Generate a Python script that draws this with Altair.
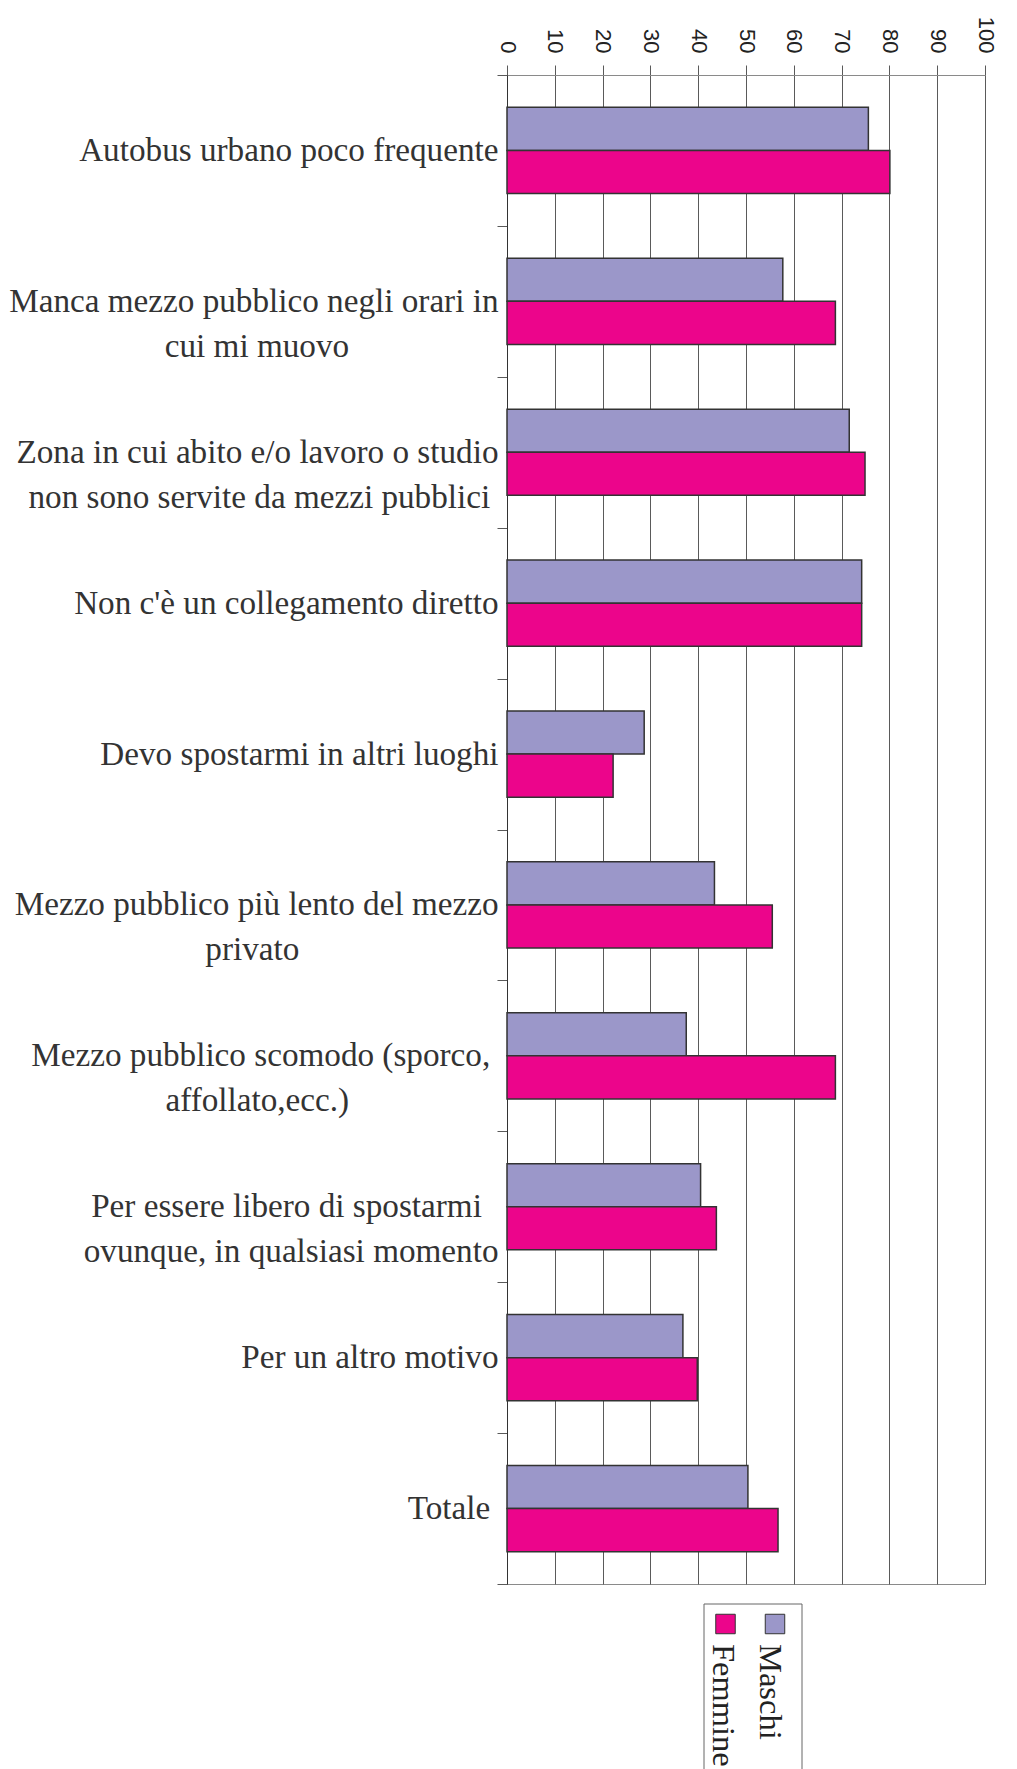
import altair as alt
import pandas as pd

NB = "\u00a0"
ZW = "\u200b"  # keeps the padding from being trimmed

categories = [
    "Autobus urbano poco frequente",
    "Manca mezzo pubblico negli orari in cui mi muovo",
    "Zona in cui abito e/o lavoro o studio non sono servite da mezzi pubblici",
    "Non c'è un collegamento diretto",
    "Devo spostarmi in altri luoghi",
    "Mezzo pubblico più lento del mezzo privato",
    "Mezzo pubblico scomodo (sporco, affollato,ecc.)",
    "Per essere libero di spostarmi ovunque, in qualsiasi momento",
    "Per un altro motivo",
    "Totale",
]
# label lines as printed (second lines padded so they sit centred under the first)
label_lines = [
    ["Autobus urbano poco frequente"],
    ["Manca mezzo pubblico negli orari in", "cui mi muovo" + NB * 18 + ZW],
    ["Zona in cui abito e/o lavoro o studio", "non sono servite da mezzi pubblici" + NB + ZW],
    ["Non c'è un collegamento diretto"],
    ["Devo spostarmi in altri luoghi"],
    ["Mezzo pubblico più lento del mezzo", "privato" + NB * 24 + ZW],
    ["Mezzo pubblico scomodo (sporco," + NB + ZW, "affollato,ecc.)" + NB * 18 + ZW],
    ["Per essere libero di spostarmi" + NB * 2 + ZW, "ovunque, in qualsiasi momento"],
    ["Per un altro motivo"],
    ["Totale" + NB + ZW],
]
series = ["Maschi", "Femmine"]
colors = ["#9B97C9", "#EC058B"]
maschi = [75.6, 57.7, 71.6, 74.2, 28.7, 43.4, 37.5, 40.5, 36.8, 50.4]
femmine = [80.1, 68.7, 74.9, 74.2, 22.2, 55.5, 68.7, 43.8, 39.8, 56.7]
x_ticks = list(range(0, 101, 10))

rows = []
for i, c in enumerate(categories):
    rows.append({"cat": c, "series": "Maschi", "value": maschi[i]})
    rows.append({"cat": c, "series": "Femmine", "value": femmine[i]})
df = pd.DataFrame(rows)

label_map = {c: "|".join(l) for c, l in zip(categories, label_lines)}
map_js = "{" + ",".join(
    "'" + c.replace("'", "\\'") + "':'" + label_map[c].replace("'", "\\'") + "'" for c in categories
) + "}"
label_expr = (
    "isValid(" + map_js + "[datum.label]) ? split(" + map_js + "[datum.label], '|') : ''"
)

bars = alt.Chart(df).mark_bar(stroke="#333333", strokeWidth=1.5).encode(
    x=alt.X(
        "value:Q",
        scale=alt.Scale(domain=[0, 100], nice=False),
        axis=alt.Axis(
            orient="top",
            values=x_ticks,
            title=None,
            grid=True,
            gridColor="#5a5a5a",
            gridWidth=1,
            gridOpacity=1,
            tickSize=10,
            tickColor="#5a5a5a",
            domainColor="#8a8a8a",
            labelAngle=90,
            labelAlign="right",
            labelBaseline="middle",
            labelPadding=12,
            labelFont="Liberation Sans",
            labelFontSize=22,
            labelColor="#222222",
        ),
    ),
    y=alt.Y(
        "cat:N",
        sort=categories,
        scale=alt.Scale(paddingInner=0, paddingOuter=0),
        axis=alt.Axis(
            title=None,
            tickBand="extent",
            tickSize=10,
            tickColor="#5a5a5a",
            domainColor="#333333",
            labelExpr=label_expr,
            labelFont="Liberation Serif",
            labelFontSize=33.2,
            labelLineHeight=45,
            labelColor="#333333",
            labelAlign="right",
            labelBaseline="middle",
            labelPadding=-1,
            labelLimit=0,
        ),
    ),
    yOffset=alt.YOffset(
        "series:N", sort=series, scale=alt.Scale(paddingInner=0, paddingOuter=0.75)
    ),
    color=alt.Color(
        "series:N", sort=series, scale=alt.Scale(domain=series, range=colors), legend=None
    ),
)

# legend (drawn rotated, as in the original)
leg_df = pd.DataFrame({"series": series, "color": colors})
layers = [bars]
box = alt.Chart(leg_df.head(1)).mark_rect(
    fill="white", stroke="#666666", strokeWidth=1
).encode(x=alt.value(197), x2=alt.value(295), y=alt.value(1529), y2=alt.value(1700))
layers.append(box)
for i, s in enumerate(series):
    sub = leg_df[leg_df["series"] == s]
    sym = alt.Chart(sub).mark_point(
        shape="square", filled=True, size=380, stroke="#333333", strokeWidth=1, opacity=1
    ).encode(
        x=alt.value(268 - 49.5 * i),
        y=alt.value(1549),
        fill=alt.value(colors[i]),
    )
    txt = alt.Chart(sub).mark_text(
        angle=90,
        align="left",
        baseline="alphabetic",
        font="Liberation Serif",
        fontSize=32.5,
        color="#222222",
    ).encode(
        x=alt.value(253 - 47.5 * i),
        y=alt.value(1569),
        text="series:N",
    )
    layers += [sym, txt]

chart = (
    alt.layer(*layers)
    .properties(
        width=478,
        height=1509,
        padding={"left": 0, "top": 8, "right": 5, "bottom": 0},
        background="white",
    )
    .configure_view(stroke="#8a8a8a", strokeWidth=1)
)

chart.save("out.html", embed_options={"renderer": "svg", "actions": False})
